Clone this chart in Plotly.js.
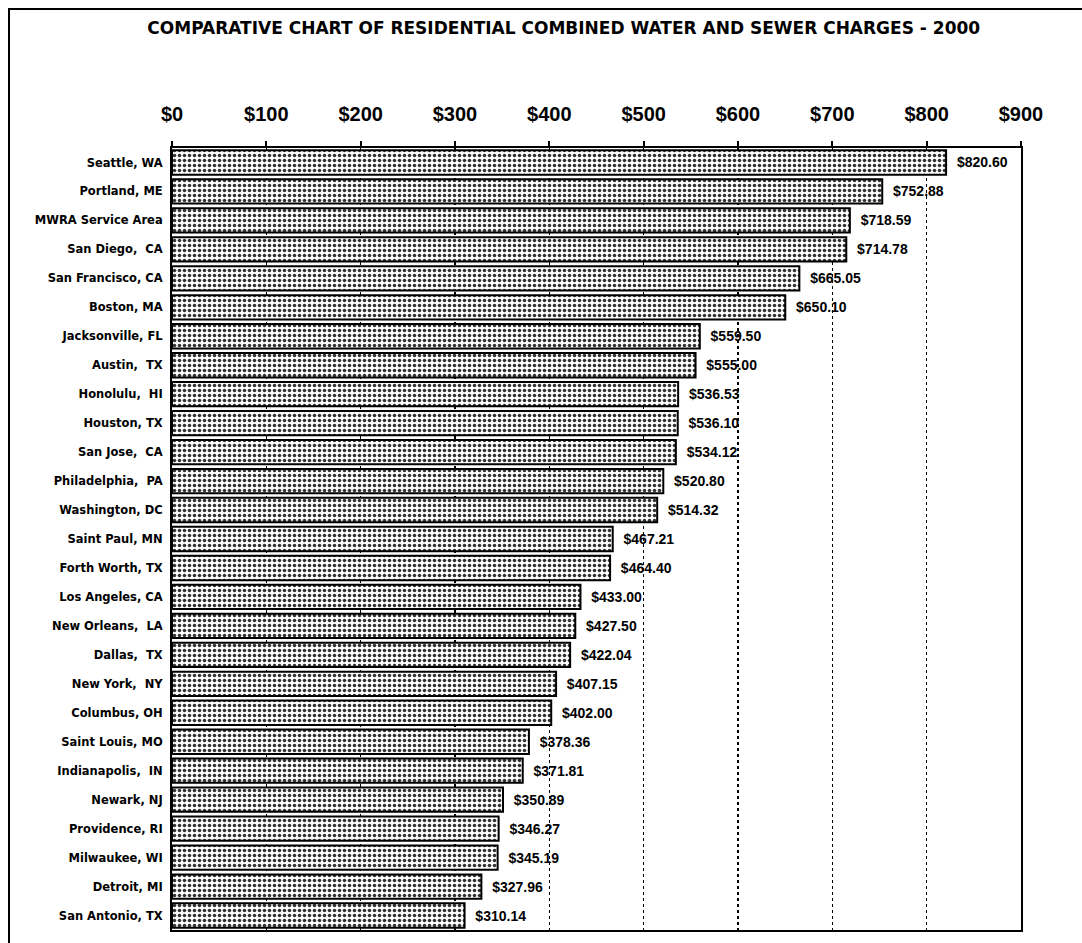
<!DOCTYPE html>
<html>
<head>
<meta charset="utf-8">
<script src="https://cdn.plot.ly/plotly-3.0.1.min.js"></script>
<style>
  html, body { margin: 0; padding: 0; background: #fff; overflow: hidden; }
  #frame { position: absolute; left: 8px; top: 8px; width: 1100px; height: 1000px; border: 2px solid #000; box-sizing: border-box; }
  #chart { position: absolute; left: 0; top: 0; width: 1082px; height: 943px; }
</style>
</head>
<body>
<div id="frame"></div>
<div id="chart"></div>
<script>
const cities = [
  "Seattle, WA", "Portland, ME", "MWRA Service Area", "San Diego,  CA", "San Francisco, CA",
  "Boston, MA", "Jacksonville, FL", "Austin,  TX", "Honolulu,  HI", "Houston, TX",
  "San Jose,  CA", "Philadelphia,  PA", "Washington, DC", "Saint Paul, MN", "Forth Worth, TX",
  "Los Angeles, CA", "New Orleans,  LA", "Dallas,  TX", "New York,  NY", "Columbus, OH",
  "Saint Louis, MO", "Indianapolis,  IN", "Newark, NJ", "Providence, RI", "Milwaukee, WI",
  "Detroit, MI", "San Antonio, TX"
];
const charges = [
  820.60, 752.88, 718.59, 714.78, 665.05,
  650.10, 559.50, 555.00, 536.53, 536.10,
  534.12, 520.80, 514.32, 467.21, 464.40,
  433.00, 427.50, 422.04, 407.15, 402.00,
  378.36, 371.81, 350.89, 346.27, 345.19,
  327.96, 310.14
];
const tickVals = [0, 100, 200, 300, 400, 500, 600, 700, 800, 900];
const tickLabels = ["$0", "$100", "$200", "$300", "$400", "$500", "$600", "$700", "$800", "$900"];

const labels = charges.map(v => "\u00a0\u00a0$" + v.toFixed(2));

const trace = {
  type: "bar",
  orientation: "h",
  y: cities,
  x: charges,
  text: labels,
  textposition: "outside",
  cliponaxis: false,
  textfont: { family: "Liberation Sans, Arial, sans-serif", size: 14, color: "#000", weight: "bold" },
  marker: {
    color: "#ffffff",
    line: { color: "#000", width: 2 },
    pattern: { shape: ".", fgcolor: "#333", bgcolor: "#ffffff", size: 5, solidity: 0.4 }
  },
  hoverinfo: "none"
};

const layout = {
  width: 1082,
  height: 943,
  margin: { l: 172, r: 61, t: 148, b: 13 },
  paper_bgcolor: "rgba(0,0,0,0)",
  plot_bgcolor: "#ffffff",
  showlegend: false,
  bargap: 0.16,
  font: { family: "Liberation Sans, Arial, sans-serif", color: "#000" },
  title: {
    text: "<b>COMPARATIVE CHART OF RESIDENTIAL COMBINED WATER AND SEWER CHARGES - 2000</b>",
    font: { family: "DejaVu Sans, sans-serif", size: 17, color: "#000" },
    x: 0.521, xref: "container", xanchor: "center",
    y: 0.970, yref: "container", yanchor: "middle"
  },
  xaxis: {
    side: "top",
    range: [0, 900],
    tickvals: tickVals,
    ticktext: tickLabels,
    tickfont: { size: 20, weight: "bold", family: "Liberation Sans, Arial, sans-serif" },
    ticks: "outside",
    ticklen: 5,
    tickwidth: 2,
    tickcolor: "#000",
    ticklabelstandoff: 12,
    showline: true,
    linecolor: "#000",
    linewidth: 2,
    mirror: true,
    showgrid: true,
    gridcolor: "#000",
    gridwidth: 1.5,
    griddash: "dot",
    zeroline: false,
    fixedrange: true
  },
  yaxis: {
    autorange: "reversed",
    type: "category",
    tickfont: { size: 11.5, weight: "bold", family: "DejaVu Sans, sans-serif" },
    ticks: "",
    ticklabelstandoff: 5,
    showline: true,
    linecolor: "#000",
    linewidth: 2,
    mirror: true,
    showgrid: false,
    zeroline: false,
    fixedrange: true
  }
};

Plotly.newPlot("chart", [trace], layout, { displayModeBar: false, staticPlot: true });
</script>
</body>
</html>
